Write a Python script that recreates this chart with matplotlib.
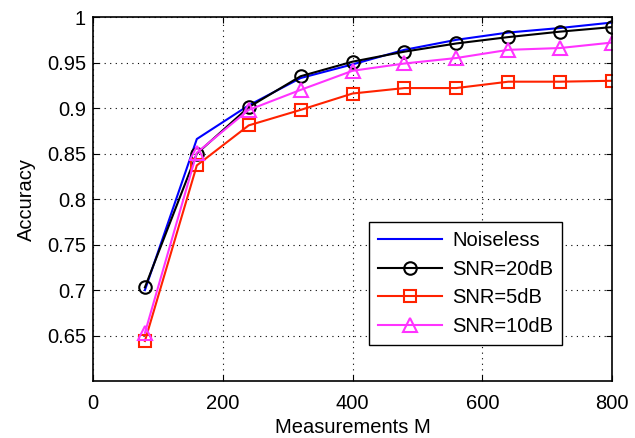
import matplotlib
matplotlib.use("Agg")
import matplotlib.pyplot as plt

plt.rcParams['font.family'] = ['Liberation Sans', 'DejaVu Sans']

M = [80, 160, 240, 320, 400, 480, 560, 640, 720, 800]
noiseless = [0.700, 0.866, 0.903, 0.933, 0.948, 0.964, 0.975, 0.983, 0.988, 0.994]
snr20 = [0.703, 0.850, 0.901, 0.935, 0.951, 0.962, 0.971, 0.978, 0.984, 0.989]
snr5 = [0.644, 0.837, 0.881, 0.898, 0.916, 0.922, 0.922, 0.929, 0.929, 0.930]
snr10 = [0.653, 0.851, 0.898, 0.920, 0.941, 0.949, 0.955, 0.964, 0.966, 0.972]

fig = plt.figure(figsize=(6.35, 4.38), dpi=100)
ax = fig.add_axes([0.1465, 0.130, 0.8173, 0.831])

ax.plot(M, noiseless, color='#0000ff', lw=1.5, label='Noiseless')
ax.plot(M, snr20, color='black', lw=1.5, marker='o', ms=9, mfc='none', mew=1.5, label='SNR=20dB')
ax.plot(M, snr5, color='#ff2200', lw=1.5, marker='s', ms=8, mfc='none', mew=1.5, label='SNR=5dB')
ax.plot(M, snr10, color='#ff33ff', lw=1.5, marker='^', ms=10, mfc='none', mew=1.5, label='SNR=10dB')

ax.set_xlim(0, 800)
ax.set_ylim(0.6, 1.0)
ax.set_xticks([0, 200, 400, 600, 800])
ax.set_yticks([0.65, 0.7, 0.75, 0.8, 0.85, 0.9, 0.95, 1.0])
ax.set_yticklabels(['0.65', '0.7', '0.75', '0.8', '0.85', '0.9', '0.95', '1'])
ax.tick_params(direction='in', labelsize=14.5, length=4, top=True, right=True)
ax.tick_params(axis='x', pad=9)
ax.tick_params(axis='y', pad=5)
ax.grid(True, linestyle=(0, (1, 4)), color='black', lw=0.8)
for s in ax.spines.values():
    s.set_linewidth(1.2)
ax.set_xlabel('Measurements M', fontsize=14.5, labelpad=4)
ax.set_ylabel('Accuracy', fontsize=14.5, labelpad=8)

leg = ax.legend(loc='lower right', bbox_to_anchor=(0.904, 0.099), fontsize=14.5, fancybox=False,
                framealpha=1, edgecolor='black', handlelength=3.2, borderpad=0.45,
                labelspacing=0.48, borderaxespad=0, handletextpad=0.5)
leg.get_frame().set_linewidth(1.0)

fig.savefig('out.png', dpi=100)
